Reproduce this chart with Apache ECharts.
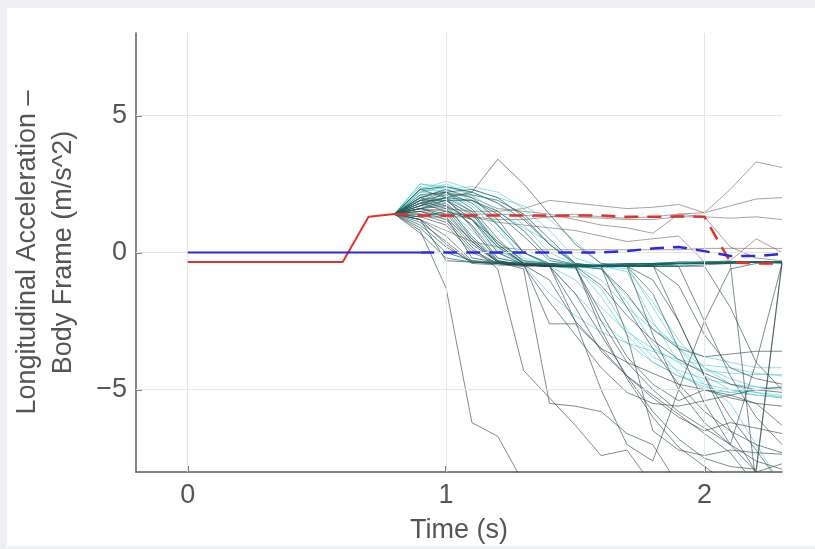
<!DOCTYPE html>
<html>
<head>
<meta charset="utf-8">
<script src="https://cdn.jsdelivr.net/npm/echarts@6.0.0/dist/echarts.min.js"></script>
<style>
  html, body { margin: 0; padding: 0; background: #eef0f4; }
  #panel { position: absolute; left: 7px; top: 8px; width: 808px; height: 538px; background: #ffffff; }
  #chart { position: absolute; left: 0; top: 0; width: 815px; height: 549px; }
</style>
</head>
<body>
<div id="panel"></div>
<div id="chart"></div>
<script>
// ---------- data ----------
const xTicks = [0, 1, 2];
const yTicks = [-5, 0, 5];
const xLabel = 'Time (s)';
const yLabel = 'Longitudinal Acceleration \u2013\nBody Frame (m/s^2)';

// sample times for every trajectory (s)
const times = [0.8, 0.9, 1.0, 1.1, 1.2, 1.3, 1.4, 1.5, 1.6, 1.7, 1.8, 1.9, 2.0, 2.1, 2.2, 2.3];

// nominal commanded (solid) lines
const redSolidT = [0, 0.6, 0.7, 0.8];
const redSolidV = [-0.35, -0.35, 1.3, 1.4];
const blueSolidT = [0, 0.9];
const blueSolidV = [0, 0];

// mean (dashed) lines, sampled at `times`
const redDashedV  = [1.4, 1.35, 1.35, 1.35, 1.35, 1.35, 1.35, 1.35, 1.35, 1.3, 1.3, 1.32, 1.3, -0.35, -0.4, -0.4];
const blueDashedV = [null, 0, 0, 0, 0, 0, 0, 0, 0, 0.05, 0.15, 0.2, 0.05, -0.13, -0.13, -0.05];

// dark teal trajectories that stay on the -0.4 band
const bandTraces = [
  [1.4, 1.2, -0.3, -0.35, -0.4, -0.4, -0.45, -0.5, -0.45, -0.4, -0.4, -0.35, -0.35, -0.35, -0.35, -0.35],
  [1.4, 1.6, 1.3, -0.2, -0.35, -0.4, -0.45, -0.5, -0.5, -0.45, -0.4, -0.4, -0.35, -0.35, -0.35, -0.4],
  [1.4, 2.0, 2.2, 1.8, 1.0, 0.0, -0.4, -0.5, -0.5, -0.45, -0.4, -0.4, -0.4, -0.35, -0.35, -0.35],
  [1.4, 1.8, 2.0, 1.9, 1.4, 0.6, -0.3, -0.45, -0.5, -0.5, -0.45, -0.4, -0.4, -0.35, -0.35, -0.35],
  [1.4, 1.3, 1.5, 1.2, 0.4, -0.3, -0.4, -0.45, -0.5, -0.45, -0.45, -0.4, -0.4, -0.4, -0.35, -0.35],
  [1.4, 2.3, 2.4, 2.2, 1.8, 1.2, 0.3, -0.4, -0.5, -0.5, -0.45, -0.4, -0.4, -0.35, -0.35, -0.35],
  [1.4, 0.9, 0.0, -0.3, -0.35, -0.4, -0.4, -0.45, -0.45, -0.4, -0.4, -0.35, -0.35, -0.35, -0.35, -0.35],
  [1.4, 1.9, 2.1, 2.1, 1.9, 1.4, 0.5, -0.4, -0.5, -0.5, -0.45, -0.4, -0.4, -0.4, -0.35, -0.35],
  [1.4, 1.6, 1.9, 1.9, 1.5, 0.8, -0.2, -0.45, -0.5, -0.5, -0.45, -0.4, -0.4, -0.35, -0.35, -0.35]
];

// dark grey trajectories that break away downward
const darkTraces = [
  [1.4, 0.8, -1.3, -6.2, -6.7, -8.4, null, null, null, null, null, null, null, null, null, null],
  [1.4, 1.5, 1.2, 0.2, -0.6, -4.3, -5.3, -6.3, -7.4, -7.2, -8.5, null, null, null, null, null],
  [1.4, 1.9, 1.6, 0.5, -0.35, -0.6, -5.5, -5.6, -5.8, -6.6, -7.0, -8.5, null, null, null, null],
  [1.4, 1.7, 2.0, 1.5, 0.3, -0.4, -2.6, -2.6, -3.5, -4.5, -5.3, -6.0, -6.5, -6.2, -6.4, -6.6],
  [1.4, 1.2, 0.6, -0.3, -0.4, -0.5, -1.8, -3.0, -4.2, -5.1, -5.5, -5.6, -5.4, -5.2, -5.0, -4.9],
  [1.4, 1.0, 0.2, -0.35, -0.4, -0.45, -0.5, -2.0, -3.6, -4.5, -5.2, -5.9, -6.6, -7.3, -8.5, null],
  [1.4, 1.6, 1.8, 1.0, -0.2, -0.4, -0.5, -0.5, -2.8, -4.6, -6.0, -7.1, -7.8, -8.5, null, null],
  [1.4, 2.0, 2.3, 2.0, 1.2, 0.0, -0.45, -0.5, -1.2, -2.3, -3.2, -3.9, -4.4, -4.8, -5.0, -5.1],
  [1.4, 1.3, 1.0, 0.0, -0.4, -0.45, -0.5, -0.5, -0.5, -2.0, -3.5, -4.8, -5.8, -6.5, -7.0, -7.3],
  [1.4, 1.8, 1.5, 0.4, -0.35, -0.4, -0.45, -0.5, -0.5, -0.5, -1.5, -3.5, -5.5, -7.0, -8.0, -7.7],
  [1.4, 1.1, 0.4, -0.35, -0.4, -0.45, -0.5, -0.5, -0.5, -0.5, -0.45, -2.5, -4.5, -6.0, -7.2, -8.5],
  [1.4, 2.3, 2.0, 0.9, -0.3, -0.45, -0.5, -0.5, -0.5, -0.5, -3.0, -5.0, -6.2, -7.0, -7.6, -7.9],
  [1.4, 1.5, 1.3, 0.3, -0.35, -0.45, -0.5, -1.5, -3.0, -4.5, -5.8, -6.8, -7.5, -7.8, -7.9, -0.35],
  [1.4, 1.7, 1.9, 1.4, 0.3, -0.4, -0.5, -0.5, -2.5, -4.0, -5.0, -5.8, -6.4, -7.0, -4.0, -0.4],
  [1.4, 2.1, 2.2, 1.6, 0.5, -0.35, -0.45, -0.5, -0.5, -0.5, -0.5, -0.5, -2.5, -4.5, -6.0, -7.0],
  [1.4, 0.7, -0.2, -0.35, -0.4, -0.45, -1.0, -2.5, -3.5, -4.0, -4.4, -4.8, -5.0, -5.3, -5.5, -5.6],
  [1.4, 1.4, 1.1, 0.1, -0.4, -0.45, -0.5, -0.5, -0.5, -3.0, -6.5, -7.2, -7.4, -7.2, -7.3, -7.35],
  [1.4, 1.9, 1.9, 1.2, 0.0, -0.45, -0.5, -0.5, -0.6, -1.5, -2.8, -3.5, -3.8, -3.7, -3.6, -3.6],
  [1.4, 1.6, 1.4, 0.4, -0.35, -0.45, -0.5, -0.5, -0.5, -0.5, -1.0, -2.5, -4.5, -6.5, -8.0, -0.4],
  [1.4, 2.0, 1.7, 0.6, -0.3, -0.45, -0.5, -0.55, -2.2, -3.8, -4.8, -5.4, -5.0, -5.2, -5.5, -6.3],
  [1.4, 1.2, 0.3, -0.4, -0.45, -0.5, -0.5, -2.5, -5.0, -7.0, -7.6, -5.0, -2.5, -0.6, -0.4, -0.35],
  [1.4, 1.6, 1.7, 1.2, 0.2, -0.4, -0.5, -0.5, -0.5, -0.5, -0.5, -0.5, -0.45, -0.4, -8.5, null],
  [1.4, 1.8, 2.0, 2.2, 3.4, 2.5, 1.4, 0.3, -0.4, -0.45, -0.5, -0.5, -0.5, -2.0, -4.0, -5.0],
  [1.4, 1.7, 2.2, 2.3, 2.0, 1.3, 0.3, -0.45, -0.5, -0.5, -0.5, -1.2, -3.0, -4.2, -4.6, -4.8]
];

// light cyan trajectories
const cyanTraces = [
  [1.4, 2.1, 1.8, 0.5, -0.35, -0.45, -1.5, -2.3, -2.9, -3.3, -3.6, -3.9, -4.1, -4.2, -4.4, -4.5],
  [1.4, 2.4, 2.2, 1.4, 0.2, -0.4, -0.5, -1.5, -2.5, -3.3, -4.0, -4.5, -4.8, -5.0, -5.1, -5.2],
  [1.4, 2.2, 2.5, 2.1, 1.0, -0.3, -0.45, -0.5, -0.6, -1.6, -2.6, -3.5, -4.2, -4.6, -4.9, -5.0],
  [1.4, 1.9, 2.0, 1.3, 0.1, -0.4, -0.5, -0.5, -1.0, -2.0, -2.8, -3.4, -3.8, -4.0, -4.2, -4.2],
  [1.4, 2.3, 2.2, 1.7, 0.8, -0.2, -0.45, -0.5, -0.5, -0.6, -1.8, -3.2, -4.2, -4.8, -5.1, -5.3],
  [1.4, 2.0, 1.9, 1.2, 0.2, -0.4, -0.45, -0.5, -0.5, -0.5, -0.45, -0.4, -0.4, -0.35, -0.35, -0.35],
  [1.4, 1.7, 1.6, 0.8, -0.2, -0.4, -0.5, -0.55, -0.55, -0.5, -0.5, -0.45, -0.4, -0.4, -0.35, -0.35],
  [1.4, 2.5, 2.3, 1.9, 1.0, 0.0, -0.5, -0.6, -1.3, -2.8, -3.8, -4.3, -4.6, -4.8, -4.9, -4.95],
  [1.4, 1.4, 1.2, 0.5, -0.3, -0.45, -0.5, -0.5, -1.6, -3.0, -4.0, -4.5, -4.9, -5.1, -5.2, -5.25],
  [1.4, 2.2, 2.1, 1.5, 0.4, -0.4, -0.5, -0.5, -0.5, -0.7, -2.5, -4.0, -4.8, -5.5, -7.0, -8.5],
  [1.4, 1.8, 1.7, 1.0, 0.0, -0.4, -0.5, -1.0, -2.0, -2.9, -3.5, -4.0, -4.3, -4.4, -4.45, -4.45],
  [1.4, 2.2, 2.4, 2.2, 1.8, 1.0, 0.0, -0.45, -0.5, -0.5, -0.45, -0.4, -0.4, -0.35, -0.35, -0.35],
  [1.4, 2.0, 2.3, 2.4, 2.2, 1.6, 0.8, -0.2, -0.5, -0.5, -0.5, -0.45, -0.4, -0.4, -0.35, -0.35],
  [1.4, 2.3, 2.6, 2.3, 2.0, 1.7, 1.2, 0.4, -0.4, -0.5, -2.0, -3.5, -4.5, -5.0, -5.2, -5.3],
  [1.4, 2.5, 2.4, 2.1, 1.5, 0.9, 0.4, -0.4, -0.6, -1.8, -3.3, -4.4, -5.0, -5.1, -5.0, -5.0]
];

// brownish grey trajectories that stay high
const upperTraces = [
  [1.4, 1.5, 1.6, 1.5, 1.5, 1.6, 1.9, 1.8, 1.7, 1.6, 1.65, 1.75, 1.45, 2.3, 3.3, 3.1],
  [1.4, 1.3, 1.3, 1.3, 1.2, 1.2, 1.3, 1.4, 1.3, 1.25, 1.3, 1.4, 1.45, 1.7, 1.95, 2.0],
  [1.4, 1.4, 1.4, 1.4, 1.4, 1.35, 1.3, 1.3, 1.25, 1.2, 1.2, 1.3, 1.3, 1.25, 1.3, 1.2],
  [1.4, 1.6, 1.5, 1.3, 1.1, 1.0, 0.9, 0.8, 0.6, 0.4, 0.5, 0.6, -0.35, -0.3, 0.5, 0.0],
  [1.4, 1.9, 2.2, 2.0, 1.6, 1.5, 1.4, 1.2, 1.0, 0.9, 0.7, 1.4, 1.3, 0.2, -0.2, -0.3],
  [1.4, 1.2, 0.8, 0.4, 0.2, 0.1, 0.1, 0.1, 0.1, 0.1, 0.1, 0.1, 0.15, 0.15, 0.15, 0.15]
];

// ---------- build ----------
function pairs(ts, vs) {
  const out = [];
  for (let i = 0; i < ts.length; i++) {
    if (vs[i] !== null && vs[i] !== undefined) out.push([ts[i], vs[i]]);
  }
  return out;
}
function trace(vs, color, z) {
  return {
    type: 'line', data: pairs(times, vs), symbol: 'none', silent: true,
    lineStyle: { color: color, width: 1 }, z: z, animation: false
  };
}

const series = [];
// grid lines drawn at the tick values
series.push({
  type: 'line', data: [], symbol: 'none', silent: true, z: 0, animation: false,
  markLine: {
    silent: true, symbol: ['none', 'none'], label: { show: false }, animation: false,
    lineStyle: { color: '#e6e6e6', width: 1, type: 'solid' },
    data: xTicks.map(v => ({ xAxis: v })).concat(yTicks.map(v => ({ yAxis: v })))
  }
});
upperTraces.forEach(v => series.push(trace(v, 'rgba(120,95,95,0.6)', 2)));
cyanTraces.forEach(v => series.push(trace(v, 'rgba(70,200,205,0.6)', 2)));
darkTraces.forEach(v => series.push(trace(v, 'rgba(45,70,72,0.62)', 3)));
bandTraces.forEach(v => series.push(trace(v, 'rgba(20,100,100,0.7)', 3)));

series.push({ type: 'line', data: pairs(redSolidT, redSolidV), symbol: 'none', silent: true, z: 5, animation: false,
  lineStyle: { color: '#e2332b', width: 2 } });
series.push({ type: 'line', data: pairs(blueSolidT, blueSolidV), symbol: 'none', silent: true, z: 5, animation: false,
  lineStyle: { color: '#2b2bd6', width: 2 } });
series.push({ type: 'line', data: pairs(times, redDashedV), symbol: 'none', silent: true, z: 6, animation: false,
  lineStyle: { color: '#e2332b', width: 2.5, type: [14, 9] } });
series.push({ type: 'line', data: pairs(times, blueDashedV), symbol: 'none', silent: true, z: 6, animation: false,
  lineStyle: { color: '#2b2be0', width: 2.5, type: [14, 9] } });

const font = '"Liberation Sans", Arial, sans-serif';
const txt = '#555555';
const chart = echarts.init(document.getElementById('chart'), null, { renderer: 'canvas' });
chart.setOption({
  animation: false,
  backgroundColor: 'transparent',
  grid: { left: 136, right: 33, top: 33, bottom: 77, containLabel: false },
  xAxis: {
    type: 'value', min: -0.2, max: 2.3,
    name: xLabel, nameLocation: 'middle', nameGap: 45,
    nameTextStyle: { color: txt, fontSize: 27, fontFamily: font },
    axisLine: { show: true, onZero: false, lineStyle: { color: '#5a5a5a', width: 1.5 } },
    axisTick: { show: true, inside: true, length: 6, customValues: xTicks, lineStyle: { color: '#5a5a5a', width: 1.5 } },
    axisLabel: { customValues: xTicks, color: txt, fontSize: 27, fontFamily: font, margin: 10 },
    splitLine: { show: false }
  },
  yAxis: {
    type: 'value', min: -8, max: 8,
    name: yLabel, nameLocation: 'middle', nameGap: 54, nameRotate: 90,
    nameTextStyle: { color: txt, fontSize: 27, fontFamily: font, lineHeight: 36, align: 'center' },
    axisLine: { show: true, onZero: false, lineStyle: { color: '#5a5a5a', width: 1.5 } },
    axisTick: { show: true, inside: true, length: 6, customValues: yTicks, lineStyle: { color: '#5a5a5a', width: 1.5 } },
    axisLabel: { customValues: yTicks, color: txt, fontSize: 27, fontFamily: font, margin: 9,
      formatter: v => (v < 0 ? '\u2212' + Math.abs(v) : String(v)) },
    splitLine: { show: false }
  },
  series: series
});
</script>
</body>
</html>
